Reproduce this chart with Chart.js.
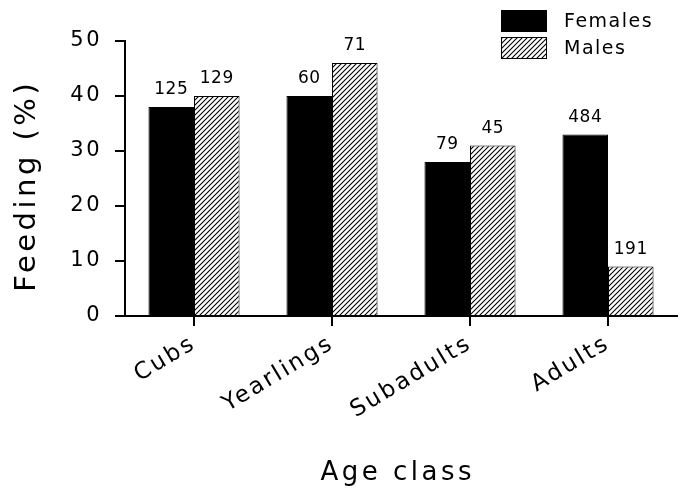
<!DOCTYPE html>
<html>
<head>
<meta charset="utf-8">
<script src="https://cdn.jsdelivr.net/npm/chart.js@4/dist/chart.umd.min.js"></script>
<style>
  html, body { margin: 0; padding: 0; background: #fff; }
  #wrap { width: 684px; height: 490px; }
</style>
</head>
<body>
<div id="wrap"><canvas id="c" width="684" height="490"></canvas></div>
<script>
const categories = ['Cubs', 'Yearlings', 'Subadults', 'Adults'];
const seriesNames = ['Females', 'Males'];
const femaleValues = [38, 40, 28, 33];
const maleValues = [40, 46, 31, 9];
const femaleN = ['125', '60', '79', '484'];
const maleN = ['129', '71', '45', '191'];
const yTicks = [0, 10, 20, 30, 40, 50];
const xTitle = 'Age class';
const yTitle = 'Feeding (%)';

const FONT = '"DejaVu Sans", sans-serif';

function hatch() {
  const s = 5;
  const c = document.createElement('canvas');
  c.width = s; c.height = s;
  const g = c.getContext('2d');
  g.fillStyle = '#fff';
  g.fillRect(0, 0, s, s);
  g.strokeStyle = '#000';
  g.lineWidth = 1.1;
  g.beginPath();
  g.moveTo(-1, s + 1); g.lineTo(s + 1, -1);
  g.moveTo(-1, 1); g.lineTo(1, -1);
  g.moveTo(s - 1, s + 1); g.lineTo(s + 1, s - 1);
  g.stroke();
  return g.createPattern(c, 'repeat');
}

const ctx = document.getElementById('c').getContext('2d');
const hatchPattern = hatch();

const SP = '2.5px';
const spacingPlugin = {
  id: 'spacing',
  beforeUpdate(chart) { chart.ctx.letterSpacing = SP; },
  beforeLayout(chart) { chart.ctx.letterSpacing = SP; },
  beforeDraw(chart) { chart.ctx.letterSpacing = SP; }
};

function spacedCenter(c, text, x, y, sp) {
  c.fillText(text, x + sp / 2, y);
}

const annotatePlugin = {
  id: 'annotate',
  afterDatasetsDraw(chart) {
    const c = chart.ctx;
    c.save();
    c.letterSpacing = '0.5px';
    c.fillStyle = '#000';
    c.font = '17px ' + FONT;
    c.textAlign = 'center';
    c.textBaseline = 'alphabetic';
    const labels = [femaleN, maleN];
    chart.data.datasets.forEach((ds, i) => {
      const meta = chart.getDatasetMeta(i);
      meta.data.forEach((el, j) => {
        c.fillText(labels[i][j], el.x, el.y - 13);
      });
    });
    c.restore();
  },
  afterDraw(chart) {
    const c = chart.ctx;
    const area = chart.chartArea;
    c.save();
    c.fillStyle = '#000';
    c.textAlign = 'center';
    c.textBaseline = 'alphabetic';
    c.letterSpacing = '3.5px';
    c.font = '26px ' + FONT;
    spacedCenter(c, xTitle, (area.left + area.right) / 2 - 5, 480, 3.5);
    c.save();
    c.translate(35, (area.top + area.bottom) / 2 + 9);
    c.rotate(-Math.PI / 2);
    c.letterSpacing = '3.5px';
    c.font = '29px ' + FONT;
    spacedCenter(c, yTitle, 0, 0, 3.5);
    c.restore();

    c.letterSpacing = '1.5px';
    const fills = ['#000', hatchPattern];
    const bx = 501, bw = 46, bh = 22;
    const rows = [10, 37];
    for (let i = 0; i < seriesNames.length; i++) {
      c.fillStyle = fills[i];
      c.fillRect(bx, rows[i], bw, bh);
      c.strokeStyle = '#000';
      c.lineWidth = 1;
      c.strokeRect(bx + 0.5, rows[i] + 0.5, bw - 1, bh - 1);
      c.fillStyle = '#000';
      c.font = '19px ' + FONT;
      c.textAlign = 'left';
      c.textBaseline = 'middle';
      c.fillText(seriesNames[i], 564, rows[i] + bh / 2 + 1);
    }
    c.restore();
  }
};

new Chart(ctx, {
  type: 'bar',
  data: {
    labels: categories,
    datasets: [
      { label: seriesNames[0], data: femaleValues, backgroundColor: '#000', borderColor: '#000', borderWidth: 1 },
      { label: seriesNames[1], data: maleValues, backgroundColor: hatchPattern, borderColor: '#000', borderWidth: 1 }
    ]
  },
  options: {
    responsive: false,
    animation: false,
    devicePixelRatio: 1,
    layout: { padding: { top: 41, right: 7, left: 0, bottom: 0 } },
    datasets: { bar: { categoryPercentage: 0.66, barPercentage: 1.0 } },
    plugins: { legend: { display: false }, tooltip: { enabled: false } },
    scales: {
      x: {
        offset: true,
        afterFit(scale) { scale.height = 174; },
        grid: { display: true, drawOnChartArea: false, drawTicks: true, tickLength: 10, offset: false, color: '#000', lineWidth: 2 },
        border: { display: true, color: '#000', width: 2 },
        ticks: { color: '#000', font: { family: FONT, size: 23 }, minRotation: 31, maxRotation: 31, padding: 4, autoSkip: false },
        title: { display: false, text: xTitle }
      },
      y: {
        min: 0, max: 50,
        afterFit(scale) { scale.width = 125; },
        afterBuildTicks(scale) { scale.ticks = yTicks.map(v => ({ value: v })); },
        grid: { display: true, drawOnChartArea: false, drawTicks: true, tickLength: 10, color: '#000', lineWidth: 2 },
        border: { display: true, color: '#000', width: 2 },
        ticks: { color: '#000', font: { family: FONT, size: 21 }, padding: 13 },
        title: { display: false, text: yTitle }
      }
    }
  },
  plugins: [spacingPlugin, annotatePlugin]
});
</script>
</body>
</html>
